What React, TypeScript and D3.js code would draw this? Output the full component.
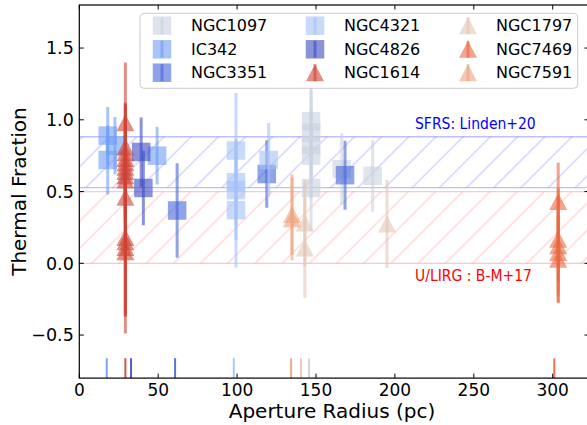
import React from "react";
import * as d3 from "d3";

// ---------- data ----------
const galaxyNames = ["NGC1097", "IC342", "NGC3351", "NGC4321", "NGC4826", "NGC1614", "NGC1797", "NGC7469", "NGC7591"];
// each point: [aperture radius (pc), thermal fraction, error]
const NGC1097 = [[146.9, 0.99, 0.25], [146.9, 0.91, 0.3], [146.9, 0.825, 0.25], [146.9, 0.75, 0.3], [146.9, 0.525, 0.3], [166.3, 0.656, 0.25], [185.9, 0.61, 0.25]];
const IC342 = [[18.0, 0.89, 0.2], [18.0, 0.72, 0.24], [22.6, 0.82, 0.2], [49.3, 0.75, 0.2]];
const NGC3351 = [[62.0, 0.368, 0.33], [118.8, 0.622, 0.235], [168.4, 0.614, 0.24]];
const NGC4321 = [[99.3, 0.786, 0.4], [99.3, 0.565, 0.3], [99.3, 0.51, 0.35], [99.3, 0.37, 0.4], [120.0, 0.72, 0.257]];
const NGC4826 = [[39.2, 0.776, 0.24], [40.6, 0.525, 0.26]];
const NGC1614 = [[29.2, 0.98, 0.42], [29.2, 0.81, 0.3], [29.2, 0.77, 0.35], [29.2, 0.73, 0.3], [29.2, 0.7, 0.4], [29.2, 0.67, 0.3], [29.2, 0.64, 0.35], [29.2, 0.61, 0.3], [29.2, 0.58, 0.35], [29.2, 0.46, 0.45], [29.2, 0.18, 0.55], [29.2, 0.15, 0.5], [29.2, 0.11, 0.6], [29.2, 0.08, 0.45]];
const NGC1797 = [[142.9, 0.28, 0.3], [142.9, 0.107, 0.35], [195.0, 0.274, 0.306]];
const NGC7469 = [[303.5, 0.43, 0.27], [303.5, 0.168, 0.3], [303.5, 0.122, 0.4], [303.5, 0.075, 0.3], [303.5, 0.029, 0.3]];
const NGC7591 = [[134.8, 0.34, 0.28], [134.8, 0.31, 0.29]];
const galaxyData = [NGC1097, IC342, NGC3351, NGC4321, NGC4826, NGC1614, NGC1797, NGC7469, NGC7591];
const resolutionPc = [145.6, 17.4, 60.7, 97.9, 32.8, 29.2, 140.5, 301.0, 134.2];
const sfrsRange = [0.527, 0.882];
const ulirgRange = [0.0, 0.5];
const xTicks = [0, 50, 100, 150, 200, 250, 300];
const yTicks = [-0.5, 0, 0.5, 1.0, 1.5];

// ---------- styles ----------
const colors = ["#cad2df", "#6e9df3", "#4366d9", "#a3c1f7", "#3c4bc1", "#cf4234", "#e4c5b4", "#e9673f", "#f0a27f"];
const shapes = ["s", "s", "s", "s", "s", "^", "^", "^", "^"];
const ALPHA = 0.6;
const FONT = "DejaVu Sans, sans-serif";
const NOTE_FONT = "'Liberation Sans Narrow', 'DejaVu Sans Condensed', sans-serif";

const W = 587, H = 425;
const x = d3.scaleLinear().domain([0, 323]).range([79.3, 589]);
const y = d3.scaleLinear().domain([-0.8, 1.8]).range([378.1, 5]);

function Marker({ shape, cx, cy, color, op }: any) {
  if (shape === "s") {
    const s = 18.5;
    return <rect x={cx - s / 2} y={cy - s / 2} width={s} height={s} fill={color} fillOpacity={op} />;
  }
  const p = d3.path();
  p.moveTo(cx, cy - 8.5);
  p.lineTo(cx + 9, cy + 8.5);
  p.lineTo(cx - 9, cy + 8.5);
  p.closePath();
  return <path d={p.toString()} fill={color} fillOpacity={op} />;
}

export default function App() {
  const [x0, x1] = x.range();
  const [yb, yt] = y.range();
  const w = 27.2 / Math.SQRT2;
  const legendCols = [[162, 191], [315, 344], [468, 496]];
  const legendRows = [25.7, 49.3, 72.7];
  return (
    <svg width={W} height={H} style={{ position: "absolute", left: 0, top: 0 }} fontFamily={FONT}>
      <defs>
        <clipPath id="plotclip">
          <rect x={x0} y={yt} width={x1 - x0} height={yb - yt} />
        </clipPath>
        <pattern id="hatchB" patternUnits="userSpaceOnUse" width={w} height={w} patternTransform={`rotate(45) translate(-8.56 0)`}>
          <line x1={w / 2} y1={-1} x2={w / 2} y2={w + 1} stroke="rgb(0,0,255)" strokeOpacity={0.25} strokeWidth={1} />
        </pattern>
        <pattern id="hatchR" patternUnits="userSpaceOnUse" width={w} height={w} patternTransform={`rotate(45) translate(-8.56 0)`}>
          <line x1={w / 2} y1={-1} x2={w / 2} y2={w + 1} stroke="rgb(255,0,0)" strokeOpacity={0.22} strokeWidth={1} />
        </pattern>
      </defs>
      <rect x={0} y={0} width={W} height={H} fill="white" />
      <g clipPath="url(#plotclip)">
        {/* bands */}
        <rect x={x0} y={y(sfrsRange[1])} width={x1 - x0} height={y(sfrsRange[0]) - y(sfrsRange[1])} fill="url(#hatchB)" />
        <line x1={x0} x2={x1} y1={y(sfrsRange[1])} y2={y(sfrsRange[1])} stroke="rgb(0,0,255)" strokeOpacity={0.25} strokeWidth={1.3} />
        <line x1={x0} x2={x1} y1={y(sfrsRange[0])} y2={y(sfrsRange[0])} stroke="rgb(0,0,255)" strokeOpacity={0.25} strokeWidth={1.3} />
        <rect x={x0} y={y(ulirgRange[1])} width={x1 - x0} height={y(ulirgRange[0]) - y(ulirgRange[1])} fill="url(#hatchR)" />
        <line x1={x0} x2={x1} y1={y(ulirgRange[1])} y2={y(ulirgRange[1])} stroke="rgb(255,0,0)" strokeOpacity={0.22} strokeWidth={1.3} />
        <line x1={x0} x2={x1} y1={y(ulirgRange[0])} y2={y(ulirgRange[0])} stroke="rgb(255,0,0)" strokeOpacity={0.22} strokeWidth={1.3} />

        {/* data */}
        {galaxyData.map((pts, gi) => (
          <g key={galaxyNames[gi]}>
            {pts.map((d, i) => (
              <line key={"e" + i} x1={x(d[0])} x2={x(d[0])} y1={y(d[1] + d[2])} y2={y(d[1] - d[2])} stroke={colors[gi]} strokeOpacity={ALPHA} strokeWidth={3} />
            ))}
            {pts.map((d, i) => (
              <Marker key={"m" + i} shape={shapes[gi]} cx={x(d[0])} cy={y(d[1])} color={colors[gi]} op={ALPHA} />
            ))}
          </g>
        ))}

        {/* resolution rug */}
        {resolutionPc.map((r, i) => (
          <line key={"r" + i} x1={x(r)} x2={x(r)} y1={yb} y2={y(-0.662)} stroke={colors[i]} strokeOpacity={0.9} strokeWidth={2} />
        ))}
      </g>

      {/* annotations */}
      <text x={415} y={129} fontFamily={NOTE_FONT} fontSize={15.5} fill="blue">SFRS: Linden+20</text>
      <text x={415} y={281} fontFamily={NOTE_FONT} fontSize={15.5} fill="red">U/LIRG : B-M+17</text>

      {/* axes frame */}
      <rect x={x0} y={yt} width={x1 - x0} height={yb - yt} fill="none" stroke="black" strokeWidth={1.2} />
      {xTicks.map((t) => (
        <g key={"xt" + t}>
          <line x1={x(t)} x2={x(t)} y1={yb} y2={yb - 4.5} stroke="black" strokeWidth={1} />
          <line x1={x(t)} x2={x(t)} y1={yt} y2={yt + 4.5} stroke="black" strokeWidth={1} />
          <text x={x(t)} y={395.5} textAnchor="middle" fontSize={17} fill="black">{t}</text>
        </g>
      ))}
      {yTicks.map((t) => (
        <g key={"yt" + t}>
          <line x1={x0} x2={x0 + 4.5} y1={y(t)} y2={y(t)} stroke="black" strokeWidth={1} />
          <line x1={x1} x2={x1 - 4.5} y1={y(t)} y2={y(t)} stroke="black" strokeWidth={1} />
          <text x={x0 - 5.5} y={y(t)} dy="0.36em" textAnchor="end" fontSize={17.5} fill="black">{d3.format(".1f")(t).replace("-", "\u2212")}</text>
        </g>
      ))}
      <text x={332} y={417.5} textAnchor="middle" fontSize={20} fill="black">Aperture Radius (pc)</text>
      <text transform={`translate(25.5, ${(yb + yt) / 2}) rotate(-90)`} textAnchor="middle" fontSize={20} fill="black">Thermal Fraction</text>

      {/* legend */}
      <rect x={140} y={13.3} width={437.7} height={75} rx={4} fill="white" fillOpacity={0.8} stroke="#cccccc" strokeWidth={1} />
      {galaxyNames.map((name, i) => {
        const col = Math.floor(i / 3);
        const row = i % 3;
        const [mx, tx] = legendCols[col];
        const cy = legendRows[row];
        return (
          <g key={"lg" + name}>
            <Marker shape={shapes[i]} cx={mx} cy={cy} color={colors[i]} op={ALPHA} />
            <line x1={mx} x2={mx} y1={cy - 8.5} y2={cy + 8.5} stroke={colors[i]} strokeOpacity={ALPHA} strokeWidth={3} />
            <text x={tx} y={cy} dy="0.36em" fontSize={16} fill="black">{name}</text>
          </g>
        );
      })}
    </svg>
  );
}
